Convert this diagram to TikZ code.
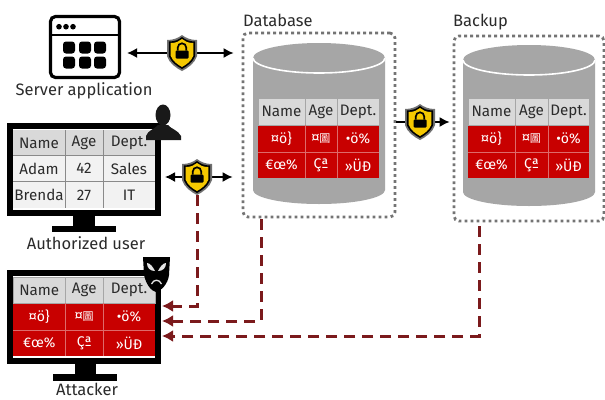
\documentclass[tikz,border=0pt]{standalone}
\usepackage{fontspec}
\usetikzlibrary{arrows.meta}
\setmainfont{Fira Sans}
\newfontfamily\cjk{Noto Sans CJK SC}
\definecolor{cellred}{HTML}{C80000}
\definecolor{cellline}{HTML}{DE6A6A}
\definecolor{headgray}{HTML}{D9D9D9}
\definecolor{rowgray}{HTML}{F2F2F2}
\definecolor{cylgray}{HTML}{A6A6A6}
\definecolor{darkred}{HTML}{7B1A1C}
\definecolor{shieldyellow}{HTML}{F5C800}
\definecolor{shieldgray}{HTML}{707070}
\definecolor{labelgray}{HTML}{2B2B2B}
\tikzset{
  x=1pt,y=-1pt,
  label text/.style={font=\fontsize{16.5}{16.5}\selectfont,text=labelgray,inner sep=0pt},
  cell text/.style={font=\fontsize{15.2}{15.2}\selectfont,text=labelgray,inner sep=0pt},
  code text/.style={font=\fontsize{14}{14}\selectfont,text=white,inner sep=0pt},
  double link/.style={draw=black,line width=1.5pt,{Latex[length=10pt,width=10pt]}-{Latex[length=10pt,width=10pt]}},
  plain link/.style={draw=black,line width=1.5pt,-{Latex[length=10pt,width=10pt]}},
  leak link/.style={draw=darkred,line width=3pt,dash pattern=on 11pt off 7pt,-{Latex[length=11pt,width=12pt]}},
  dotted box/.style={draw=cylgray!70!black,line width=2.8pt,dash pattern=on 2.8pt off 3.2pt,rounded corners=5pt,inner sep=0pt},
  shield spot/.style={inner sep=0pt,minimum width=30pt,minimum height=36pt},
  shieldpic/.pic={
    \path[fill=shieldgray] (-15,-13) .. controls (-8,-13) and (-4,-15) .. (0,-18) .. controls (4,-15) and (8,-13) .. (15,-13) -- (15,3) .. controls (13,10) and (6,15) .. (0,18) .. controls (-6,15) and (-13,10) .. (-15,3) -- cycle;
    \path[fill=black] (-13.2,-11.5) .. controls (-7,-11.5) and (-3.5,-13.2) .. (0,-16) .. controls (3.5,-13.2) and (7,-11.5) .. (13.2,-11.5) -- (13.2,3) .. controls (11,9) and (5.5,13) .. (0,16) .. controls (-5.5,13) and (-11,9) .. (-13.2,3) -- cycle;
    \path[fill=shieldyellow] (-11.4,-10) .. controls (-6,-10) and (-3,-11.5) .. (0,-14) .. controls (3,-11.5) and (6,-10) .. (11.4,-10) -- (11.4,2.5) .. controls (9.5,8) and (4.5,11.5) .. (0,14) .. controls (-4.5,11.5) and (-9.5,8) .. (-11.4,2.5) -- cycle;
    \path[fill=black,rounded corners=1pt] (-6.5,-2.5) rectangle (6.5,5.5);
    \draw[black,line width=1.7pt] (-4.2,-2.5) -- (-4.2,-5.5) arc[start angle=180,end angle=360,radius=4.2] -- (4.2,-2.5);
  },
  monitor/.style={draw=black,line width=6pt,fill=white,inner sep=0pt},
}
% name, x0 x1 x2 x3, y0 y1 y2 y3
\newcommand{\gridbase}[9]{%
  \fill[headgray] (#2,#6) rectangle (#5,#7);
  \fill[cellred] (#2,#7) rectangle (#5,#9);
  \draw[white!65!black,line width=.8pt] (#3,#6) -- (#3,#7) (#4,#6) -- (#4,#7) (#2,#6) rectangle (#5,#7);
  \draw[cellline,line width=.6pt] (#3,#7) -- (#3,#9) (#4,#7) -- (#4,#9) (#2,#8) -- (#5,#8);
  \node[cell text] (#1n) at ({(#2+#3)/2},{(#6+#7)/2}) {Name};
  \node[cell text] (#1a) at ({(#3+#4)/2},{(#6+#7)/2}) {Age};
  \node[cell text] (#1d) at ({(#4+#5)/2},{(#6+#7)/2}) {Dept.};
  \node[code text] (#1p) at ({(#2+#3)/2},{(#7+#8)/2}) {¤ö\}};
  \node[code text] (#1q) at ({(#3+#4)/2},{(#7+#8)/2}) {¤{\cjk\fontsize{11}{11}\selectfont 圖}};
  \node[code text] (#1r) at ({(#4+#5)/2},{(#7+#8)/2}) {•ö\%};
  \node[code text] (#1s) at ({(#2+#3)/2},{(#8+#9)/2}) {€œ\%};
  \node[code text] (#1t) at ({(#3+#4)/2},{(#8+#9)/2}) {Çª};
  \node[code text] (#1u) at ({(#4+#5)/2},{(#8+#9)/2}) {»ÜÐ};
}
% name, left, right, top centre y, bottom y
\newcommand{\drum}[5]{%
  \fill[cylgray] (#2,#4) -- (#2,#5) arc[x radius={(#3-#2)/2},y radius=14,start angle=180,end angle=0] -- (#3,#4) -- cycle;
  \fill[cylgray] ({(#2+#3)/2},#4) ellipse [x radius={(#3-#2)/2},y radius=15];
  \draw[white,line width=1.6pt] (#2,#4) arc[x radius={(#3-#2)/2},y radius=15,start angle=180,end angle=0];
  \coordinate (#1) at ({(#2+#3)/2},#4);
}
\begin{document}
\begin{tikzpicture}
\useasboundingbox (0,0) rectangle (605,399);
\fill[white] (0,0) rectangle (605,399);

% server application icon
\node[draw=black,line width=3.2pt,rounded corners=5pt,minimum width=69pt,minimum height=61pt,inner sep=0pt] (app) at (85,47) {};
\draw[black,line width=2.4pt] (50,35) -- (120,35);
\foreach \cx in {59,66,73} \fill[black] (\cx,26.7) circle (2.8);
\foreach \cy in {47.5,62.5} \foreach \cx in {69,85,100} \fill[black,rounded corners=3pt] (\cx-6,\cy-6) rectangle (\cx+6,\cy+6);
\node[label text] (applabel) at (84,90.5) {Server application};

% authorized user monitor
\fill[black] (73,215) rectangle (95,226);
\fill[black] (52,226) rectangle (116,232);
\node[monitor,minimum width=148pt,minimum height=87pt] (usermon) at (84,169.5) {};
\fill[rowgray] (13,155) rectangle (155,208);
\fill[headgray] (13,130) rectangle (155,155);
\draw[labelgray!55,line width=.8pt] (65.5,130) -- (65.5,208) (103,130) -- (103,208) (13,155) -- (155,155) (13,181.5) -- (155,181.5);
\node[cell text] (u1) at (39,143) {Name};
\node[cell text] (u2) at (84,143) {Age};
\node[cell text] (u3) at (129,143) {Dept.};
\node[cell text] (u4) at (39,168.5) {Adam};
\node[cell text] (u5) at (84,168.5) {42};
\node[cell text] (u6) at (129,168.5) {Sales};
\node[cell text] (u7) at (39,195) {Brenda};
\node[cell text] (u8) at (84,195) {27};
\node[cell text] (u9) at (129,195) {IT};
\node[label text] (userlabel) at (86,243) {Authorized user};
% person
\fill[black!90] (163,115) ellipse [x radius=7.5,y radius=10.5];
\fill[black!90] (146,140) -- (146,136) .. controls (148,130) and (155,129) .. (158,125) -- (168,125) .. controls (171,129) and (178,130) .. (181,136) -- (181,140) -- cycle;

% attacker monitor
\fill[black] (75,364) rectangle (96,374);
\fill[black] (53,374) rectangle (117,381);
\node[monitor,minimum width=148pt,minimum height=88pt] (attmon) at (84,317) {};
\gridbase{a}{13}{65.5}{103}{155}{277}{303}{330}{356}
\node[label text] (attlabel) at (87,389.5) {Attacker};
% mask
\fill[black] (143,257) -- (170,257) -- (169,275) .. controls (168,284) and (161,291) .. (156,292) .. controls (151,291) and (146,284) .. (144,275) -- cycle;
\fill[white!90!black] (147,263) .. controls (150,263) and (153,267) .. (155,271) .. controls (150,271) and (147,268) .. (147,263) -- cycle;
\fill[white!90!black] (166,263) .. controls (163,263) and (160,267) .. (158,271) .. controls (163,271) and (166,268) .. (166,263) -- cycle;
\draw[white!90!black,line width=1.3pt] (151.5,284) .. controls (153.5,279) and (159.5,279) .. (161.5,284);

% database
\node[dotted box,minimum width=152pt,minimum height=184pt] (dbbox) at (319,125) {};
\drum{dbtop}{253}{385}{58}{190}
\gridbase{d}{258}{305}{337}{379}{98}{125}{152}{178}
\node[label text,anchor=west] (dblabel) at (243,20) {Database};

% backup
\node[dotted box,minimum width=150pt,minimum height=185pt] (bkbox) at (529,128.5) {};
\drum{bktop}{463}{595}{60}{192}
\gridbase{b}{468}{515}{548}{589}{98}{125}{152}{178}
\node[label text,anchor=west] (bklabel) at (453,22) {Backup};

% shields
\node[shield spot] (s1) at (182,53) {};
\node[shield spot] (s2) at (197,177) {};
\node[shield spot] (s3) at (420,122) {};

% secure links
\draw[double link,shorten <=6pt,shorten >=8pt] (app.east |- s1) -- (dbbox.west |- s1);
\draw[double link,shorten <=4pt,shorten >=9pt] (usermon.east |- s2) -- (dbbox.west |- s2);
\draw[plain link,shorten >=3pt] (dbbox.east |- s3) -- (bkbox.west |- s3);
\pic at (s1) {shieldpic};
\pic at (s2) {shieldpic};
\pic at (s3) {shieldpic};

% leak paths
\coordinate (leak1) at (162,306);
\coordinate (leak2) at (162,321);
\coordinate (leak3) at (162,336);
\coordinate (dbout) at (261,219);
\coordinate (bkout) at (479,226);
\draw[leak link] (s2.south) |- (leak1);
\draw[leak link] (dbout) |- (leak2);
\draw[leak link] (bkout) |- (leak3);
\end{tikzpicture}
\end{document}
